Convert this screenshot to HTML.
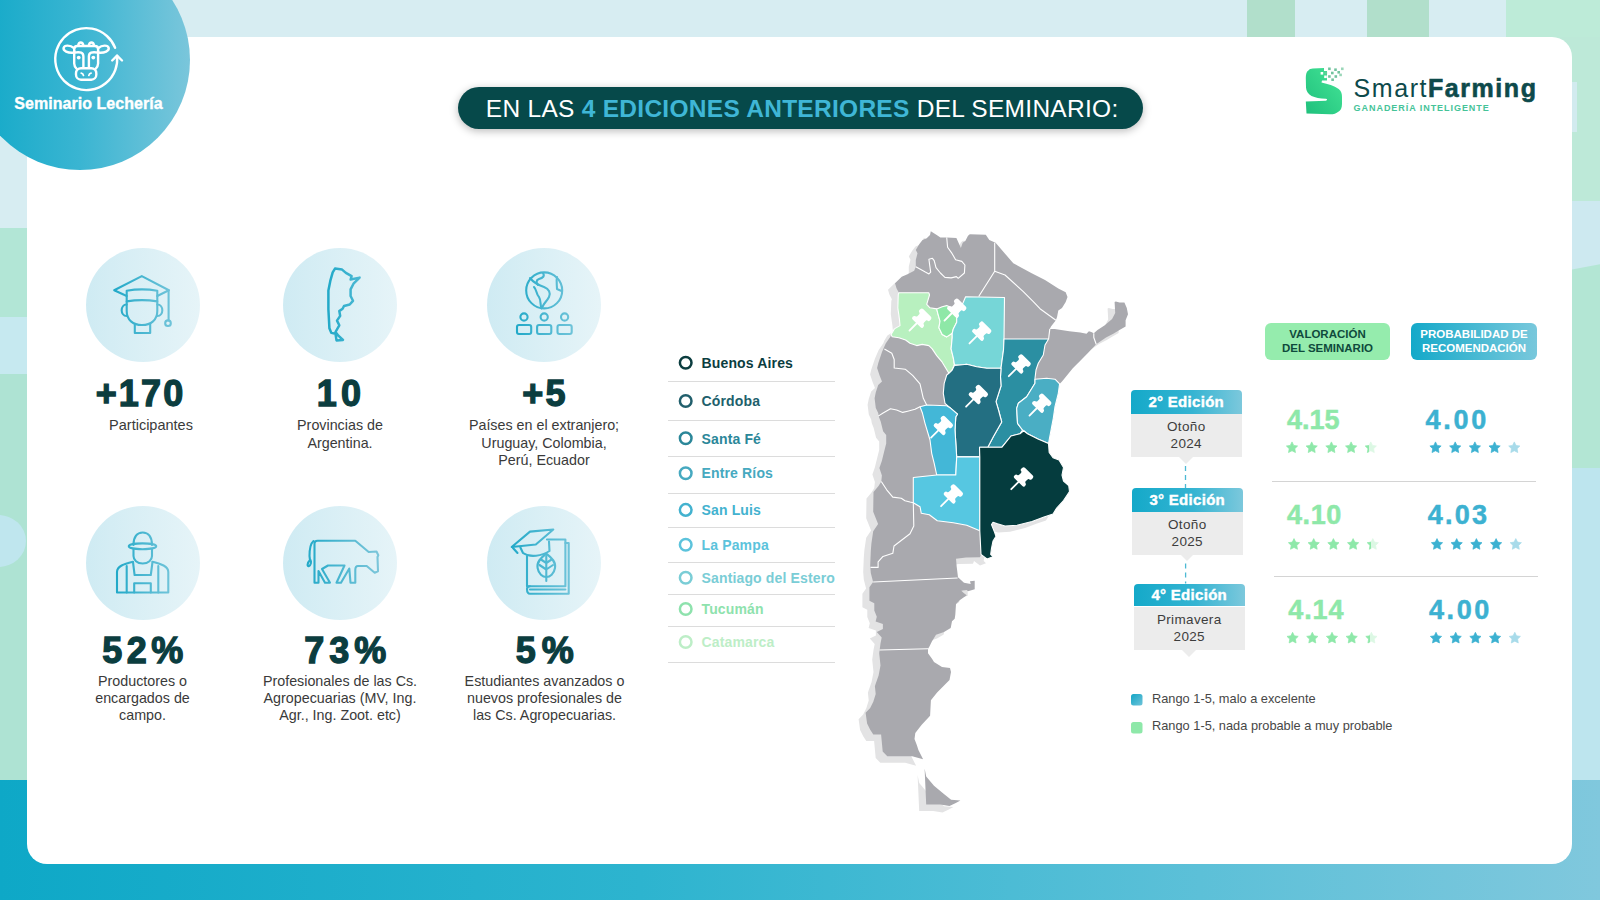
<!DOCTYPE html>
<html><head><meta charset="utf-8"><title>Seminario Lechería</title>
<style>
html,body{margin:0;padding:0;}
body{width:1600px;height:900px;position:relative;overflow:hidden;font-family:"Liberation Sans",sans-serif;background:#fff;}
.a{position:absolute;}
.t{position:absolute;white-space:nowrap;}
svg{display:block;}
</style></head><body>
<div class="a" style="left:0;top:0;width:1600px;height:900px;background:#d7edf2"></div>
<div class="a" style="left:1247px;top:0;width:48px;height:40px;background:#b1dfcb"></div>
<div class="a" style="left:1367px;top:0;width:62px;height:40px;background:#b1dfcb"></div>
<div class="a" style="left:1506px;top:0;width:94px;height:40px;background:#bdebd8"></div>
<div class="a" style="left:1560px;top:37px;width:40px;height:170px;background:#bde9d8"></div>
<div class="a" style="left:1560px;top:205px;width:40px;height:265px;background:#b3e6d4"></div>
<div class="a" style="left:1560px;top:200.7px;width:40px;height:71px;background:#cde9f0;clip-path:polygon(0 0,100% 0,100% 89.7%,0 100%)"></div>
<div class="a" style="left:1560px;top:468px;width:40px;height:315px;background:#bde5ee"></div>
<div class="a" style="left:1572px;top:81.5px;width:4.8px;height:50.5px;background:#d2ebef"></div>
<div class="a" style="left:0;top:228px;width:40px;height:89px;background:#b2e6d6"></div>
<div class="a" style="left:0;top:317px;width:40px;height:57px;background:#c6e9f0"></div>
<div class="a" style="left:0;top:374px;width:40px;height:410px;background:#aee3d3"></div>
<div class="a" style="left:-30px;top:515px;width:56px;height:52px;border-radius:50%;background:#bfe6ee"></div>
<div class="a" style="left:0;top:780px;width:1600px;height:120px;background:linear-gradient(90deg,#0ea8c7 0%,#2db4cf 40%,#5cc0d8 75%,#80c8dd 100%)"></div>
<div class="a" style="left:27px;top:37px;width:1545px;height:827px;background:#fff;border-radius:20px"></div>
<div class="a" style="left:-30.5px;top:-50px;width:220px;height:220px;border-radius:50%;background:linear-gradient(90deg,#0fa8c7 0%,#3ab5d2 50%,#7ac6db 100%)"></div>
<svg class="a" style="left:0;top:0" width="200" height="130" viewBox="0 0 200 130">
<g fill="none" stroke="#fff" stroke-width="2.4" stroke-linecap="round" stroke-linejoin="round">
<path d="M115.1,47.8 A31,31 0 1 0 117.05,55.7"/>
<path d="M112.2,60.5 L117.05,55.7 L122,60.5"/>
<path d="M78.3,45.2 C78.6,41.5 82.8,41.5 83.3,45.2 M88.9,45.2 C89.4,41.5 93.6,41.5 93.9,45.2"/>
<path d="M74.2,52 L74.2,49 C74.2,47 75.5,46 77.5,46 L94.8,46 C96.8,46 98.1,47 98.1,49 L98.1,52"/>
<path d="M74.2,48.2 C70,44.8 64.5,45 63.6,47.8 C62.9,50.8 67.5,53.2 74.2,52.6"/>
<path d="M98.1,48.2 C102.3,44.8 107.8,45 108.7,47.8 C109.4,50.8 104.8,53.2 98.1,52.6"/>
<path d="M74.2,51 L74.2,63.5 C74.2,65.5 75,67 76.6,68.8 M98.1,51 L98.1,63.5 C98.1,65.5 97.3,67 95.7,68.8"/>
<path d="M74.2,52.6 C80.5,51.6 83.4,52.5 83.4,56.5 L83.4,67.8 M98.1,52.6 C91.8,51.6 88.9,52.5 88.9,56.5 L88.9,67.8"/>
<rect x="76" y="68.2" width="20.3" height="11.5" rx="5"/>
</g>
<g fill="#fff"><circle cx="78.7" cy="57.6" r="1.9"/><circle cx="93.3" cy="57.6" r="1.9"/></g>
<g fill="none" stroke="#fff" stroke-width="1.7" stroke-linecap="round"><path d="M81.2,73.2 q1.9,0.3 2.3,2.3 M91.1,73.2 q-1.9,0.3 -2.3,2.3"/></g>
</svg>
<div class="t" style="top:93.86px;font-size:16px;line-height:19.2px;color:#fff;font-weight:bold;letter-spacing:0.05px;left:-11.50px;width:200px;text-align:center;-webkit-text-stroke:0.35px #fff;">Seminario Lechería</div>
<div class="a" style="left:457.5px;top:87px;width:685.5px;height:41.5px;border-radius:21px;background:#06494a;box-shadow:0 2px 9px rgba(0,0,0,0.28)"></div>
<div class="t" style="top:93.61px;font-size:24.5px;line-height:29.4px;color:#ffffff;font-weight:normal;letter-spacing:0.28px;left:485.80px;white-space:nowrap;">EN LAS <b style="color:#3fb6d6">4 EDICIONES ANTERIORES</b> DEL SEMINARIO:</div>
<svg class="a" style="left:1300px;top:62px" width="50" height="58" viewBox="1300 62 50 58">
<defs><linearGradient id="sg" x1="0" y1="1" x2="1" y2="0"><stop offset="0" stop-color="#1fc07c"/><stop offset="1" stop-color="#45e597"/></linearGradient></defs>
<path fill="url(#sg)" d="M1312.9,68.5 L1324,68.1 L1324,71 L1327,71 L1327,80.5 L1322,80.5 L1321.5,82.6 C1328,84 1334,86 1338.7,89.1 C1341.5,91.5 1342,94 1342,97 L1342,104 C1342,108 1340.5,110.5 1338.7,111.5 C1336,113.5 1334,114.3 1330,114.3 L1306.5,113.5 L1305.8,101.4 L1325.8,100.7 C1327.5,100.4 1327.5,98.9 1325.8,98.8 C1320,98.3 1315,97.8 1311.5,96 C1308,94 1306.2,91 1306,87.5 L1305.8,78 C1305.8,74 1306.5,71.5 1308.4,70.4 C1309.5,69.2 1311,68.6 1312.9,68.5 Z"/>
<g fill="#fff"><rect x="1320.6" y="72" width="2.6" height="2.6"/><rect x="1324.2" y="75.5" width="2.6" height="2.6"/></g>
<g fill="#72c39e">
<rect x="1328.1" y="67.5" width="2.6" height="2.6"/><rect x="1334.2" y="68.4" width="2.6" height="2.6"/><rect x="1341" y="67.5" width="2.6" height="2.6" fill="#9ad6b8"/>
<rect x="1331" y="71.7" width="2.6" height="2.6"/><rect x="1337.4" y="71" width="2.6" height="2.6"/><rect x="1339.3" y="73.6" width="2.6" height="2.6" fill="#9ad6b8"/>
<rect x="1328.1" y="75.2" width="2.6" height="2.6"/><rect x="1334.5" y="75.2" width="2.6" height="2.6"/><rect x="1331.3" y="78.4" width="2.6" height="2.6"/>
<rect x="1324.5" y="71.7" width="2.6" height="2.6" fill="#5fcf97"/>
</g></svg>
<div class="t" style="top:72.64px;font-size:25px;line-height:30.0px;color:#0d4a4b;font-weight:normal;letter-spacing:1.55px;left:1353.60px;white-space:nowrap;"><span style="font-weight:normal">Smart</span><b style="-webkit-text-stroke:0.6px #0d4a4b">Farming</b></div>
<div class="t" style="top:102.98px;font-size:9px;line-height:10.8px;color:#45c398;font-weight:bold;letter-spacing:0.95px;left:1353.60px;white-space:nowrap;">GANADERÍA INTELIGENTE</div>
<div class="a" style="left:85.7px;top:247.7px;width:114px;height:114px;border-radius:50%;background:linear-gradient(90deg,#cfebf3 0%,#e6f4f8 100%)"></div>
<div class="a" style="left:283.0px;top:247.7px;width:114px;height:114px;border-radius:50%;background:linear-gradient(90deg,#cfebf3 0%,#e6f4f8 100%)"></div>
<div class="a" style="left:487.0px;top:247.7px;width:114px;height:114px;border-radius:50%;background:linear-gradient(90deg,#cfebf3 0%,#e6f4f8 100%)"></div>
<div class="a" style="left:85.7px;top:505.5px;width:114px;height:114px;border-radius:50%;background:linear-gradient(90deg,#cfebf3 0%,#e6f4f8 100%)"></div>
<div class="a" style="left:283.0px;top:505.5px;width:114px;height:114px;border-radius:50%;background:linear-gradient(90deg,#cfebf3 0%,#e6f4f8 100%)"></div>
<div class="a" style="left:487.0px;top:505.5px;width:114px;height:114px;border-radius:50%;background:linear-gradient(90deg,#cfebf3 0%,#e6f4f8 100%)"></div>
<svg class="a" style="left:0;top:0" width="660" height="620" viewBox="0 0 660 620">
<defs>
<linearGradient id="ig1" gradientUnits="userSpaceOnUse" x1="114" y1="0" x2="170" y2="0"><stop offset="0" stop-color="#22a9c8"/><stop offset="1" stop-color="#6ec3d9"/></linearGradient>
<linearGradient id="ig2" gradientUnits="userSpaceOnUse" x1="328" y1="0" x2="360" y2="0"><stop offset="0" stop-color="#22a9c8"/><stop offset="1" stop-color="#4bb8d3"/></linearGradient>
<linearGradient id="ig3" gradientUnits="userSpaceOnUse" x1="516" y1="0" x2="572" y2="0"><stop offset="0" stop-color="#22a9c8"/><stop offset="1" stop-color="#6ec3d9"/></linearGradient>
<linearGradient id="ig4" gradientUnits="userSpaceOnUse" x1="116" y1="0" x2="169" y2="0"><stop offset="0" stop-color="#22a9c8"/><stop offset="1" stop-color="#6ec3d9"/></linearGradient>
<linearGradient id="ig5" gradientUnits="userSpaceOnUse" x1="307" y1="0" x2="379" y2="0"><stop offset="0" stop-color="#22a9c8"/><stop offset="1" stop-color="#7cc6da"/></linearGradient>
<linearGradient id="ig6" gradientUnits="userSpaceOnUse" x1="511" y1="0" x2="569" y2="0"><stop offset="0" stop-color="#22a9c8"/><stop offset="1" stop-color="#6ec3d9"/></linearGradient>
</defs>
<g fill="none" stroke-width="2.1" stroke-linejoin="round" stroke-linecap="round">
<g stroke="url(#ig1)">
<!-- graduate -->
<path d="M126.7,296 L114.2,290.3 L141.8,276.1 L168.9,290.3 L157.3,296"/>
<path d="M126.7,290.8 Q142,288 157.3,290.8 L157.3,301.4 Q142,298.8 126.7,301.4 Z"/>
<path d="M126.7,301.4 L126.7,311 C126.7,320 133,325 142,325 C151,325 157.3,320 157.3,311 L157.3,301.4"/>
<path d="M126.7,304.5 C120,304.5 120,316 126.7,316 M157.3,304.5 C164,304.5 164,316 157.3,316"/>
<path d="M134.8,324 L134.8,333 L150.2,333 L150.2,324"/>
<path d="M168.6,290.3 L168.6,320.5"/>
<circle cx="168" cy="323.2" r="2.8"/>
</g><g stroke="url(#ig2)"><!-- argentina -->
<path stroke-width="2.5" d="M335,268.6 L342.1,269.6 L345.9,272.9 L351.6,276.2 L350.6,279.5 L359.6,277.6 L353.5,283.7 L350.6,289.4 L350.6,296 L353,300.8 L349.7,304.5 L344,306 L342.6,308.8 L339.3,311.1 L340.2,315.9 L337,320.6 L339.3,325.3 L335.5,332 L338.4,335.7 L343,340 L336.5,340.4 L335.5,333.8 L331.3,332.9 L329.4,328.2 L328.4,309.3 L328.4,290.4 L330.3,280.9 L332.7,272.4 Z"/>
</g><g stroke="url(#ig3)"><!-- globe -->
<circle cx="544.2" cy="290.4" r="18"/>
<path d="M530,278 C534,283 538,285 544,287 C549,289 551,293 549,297 C547,301 544,303 543,306 L541.5,308.5 C540,304 541,300 539,297 C536,294 537,290 534,287"/>
<path d="M543,273 C545,276 543,278 539,279 C536,280 536,283 538,285"/>
<path d="M557,277 C556,281 557,285 557,289 L561.5,291"/>
<circle cx="524" cy="317" r="3.6"/><circle cx="544.2" cy="317" r="3.6"/><circle cx="564.6" cy="317" r="3.6"/>
<rect x="517" y="325" width="14.2" height="9" rx="2"/><rect x="537.1" y="325" width="14.2" height="9" rx="2"/><rect x="557.5" y="325" width="14.2" height="9" rx="2"/>
</g><g stroke="url(#ig4)"><!-- farmer -->
<path d="M133.5,545 C133.5,537 137,532.5 142.7,532.5 C148.4,532.5 152,537 152,545"/>
<ellipse cx="142.5" cy="546.3" rx="13.7" ry="2.9"/>
<path d="M133.5,549 L133.5,556 C133.5,560 137,563.5 142.7,563.5 C148.4,563.5 152,560 152,556 L152,549"/>
<path d="M133,561.7 C124,564 117,566 117,572 L117,592.5 L168.3,592.5 L168.3,572 C168.3,566 161,564 152.5,561.7"/>
<path d="M126.7,566 L126.7,592.5 M158.3,566 L158.3,592.5"/>
<path d="M133,562 L134.6,575 L150.8,575 L152.5,562"/>
<path d="M134.2,592.5 L134.2,583.3 L150.8,583.3 L150.8,592.5"/>
</g><g stroke="url(#ig5)"><!-- cow -->
<path d="M314.5,582.7 L314.5,543.5 Q314.5,540.7 317.5,540.7 L355.3,540.7 L368.7,552 L376.5,551.5 L378.3,555.3 L377.5,557 L378,571.3 L374.7,572.7 L366.7,566 L358,566 Q355.3,566 355.3,570 L355.3,582.7 L350.5,582.7 L349.3,568.5 L341,582.7 L336.5,582.7 L344.5,565.5 L328,565.5 L322,569 L330,582.7 L325,582.7 L318.5,571 L318.5,582.7 Z"/>
<path d="M313.5,541 C310,544 309.5,550 309.5,556 L310,560 C307,563 307,567 309,566 C311,565 311.5,562 310.5,560"/>
</g><g stroke="url(#ig6)"><!-- book -->
<path d="M527,556 L527,586.2 L565.4,586.2 L565.4,539.5 L547,539.5"/>
<path d="M565.4,543 L568.7,543 L568.7,593.7 L530,593.7 C527,593.7 527,590 527,589 C527,587 528,586.2 530,586.2"/>
<path d="M530,589.5 L565.4,589.5"/>
<path d="M511.7,547 L530,531.6 L553.3,529.5 L535.8,544.5 Z"/>
<path d="M520.4,547.5 L523,553 C530,558 542,556 549.5,551 L549,541.5"/>
<path d="M513,548 L517.5,553"/>
<path d="M546.3,553.7 C552,558 556,562 555,568 C554,574 550,577 546.3,577 C542.6,577 538.6,574 537.6,568 C536.6,562 540.6,558 546.3,553.7 Z"/>
<path d="M546.3,556 L546.3,581 M546.3,563 L541,559.5 M546.3,563 L551.6,559.5 M546.3,569.5 L539.5,565 M546.3,569.5 L553,565"/>
</g></g></svg>
<div class="t" style="top:371.93px;font-size:36px;line-height:43.2px;color:#0b3d3f;font-weight:bold;letter-spacing:2.2px;left:40.60px;width:200px;text-align:center;-webkit-text-stroke:1.3px #0b3d3f;">+170</div>
<div class="t" style="top:371.93px;font-size:36px;line-height:43.2px;color:#0b3d3f;font-weight:bold;letter-spacing:4px;left:240.90px;width:200px;text-align:center;-webkit-text-stroke:1.3px #0b3d3f;">10</div>
<div class="t" style="top:371.93px;font-size:36px;line-height:43.2px;color:#0b3d3f;font-weight:bold;letter-spacing:2.2px;left:445.00px;width:200px;text-align:center;-webkit-text-stroke:1.3px #0b3d3f;">+5</div>
<div class="t" style="top:416.88px;font-size:14.5px;line-height:17.4px;color:#3a3a3a;font-weight:normal;left:51.00px;width:200px;text-align:center;">Participantes</div>
<div class="t" style="top:417.07px;font-size:14.3px;line-height:17.16px;color:#3a3a3a;font-weight:normal;left:190.00px;width:300px;text-align:center;">Provincias de</div>
<div class="t" style="top:434.57px;font-size:14.3px;line-height:17.16px;color:#3a3a3a;font-weight:normal;left:190.00px;width:300px;text-align:center;">Argentina.</div>
<div class="t" style="top:417.07px;font-size:14.3px;line-height:17.16px;color:#3a3a3a;font-weight:normal;left:394.00px;width:300px;text-align:center;">Países en el extranjero;</div>
<div class="t" style="top:434.57px;font-size:14.3px;line-height:17.16px;color:#3a3a3a;font-weight:normal;left:394.00px;width:300px;text-align:center;">Uruguay, Colombia,</div>
<div class="t" style="top:452.07px;font-size:14.3px;line-height:17.16px;color:#3a3a3a;font-weight:normal;left:394.00px;width:300px;text-align:center;">Perú, Ecuador</div>
<div class="t" style="top:628.93px;font-size:36px;line-height:43.2px;color:#0b3d3f;font-weight:bold;letter-spacing:4.5px;left:45.00px;width:200px;text-align:center;-webkit-text-stroke:1.3px #0b3d3f;">52%</div>
<div class="t" style="top:628.93px;font-size:36px;line-height:43.2px;color:#0b3d3f;font-weight:bold;letter-spacing:5px;left:247.70px;width:200px;text-align:center;-webkit-text-stroke:1.3px #0b3d3f;">73%</div>
<div class="t" style="top:628.93px;font-size:36px;line-height:43.2px;color:#0b3d3f;font-weight:bold;letter-spacing:6px;left:447.80px;width:200px;text-align:center;-webkit-text-stroke:1.3px #0b3d3f;">5%</div>
<div class="t" style="top:673.37px;font-size:14.3px;line-height:17.16px;color:#3a3a3a;font-weight:normal;left:-7.50px;width:300px;text-align:center;">Productores o</div>
<div class="t" style="top:690.27px;font-size:14.3px;line-height:17.16px;color:#3a3a3a;font-weight:normal;left:-7.50px;width:300px;text-align:center;">encargados de</div>
<div class="t" style="top:707.17px;font-size:14.3px;line-height:17.16px;color:#3a3a3a;font-weight:normal;left:-7.50px;width:300px;text-align:center;">campo.</div>
<div class="t" style="top:673.37px;font-size:14.3px;line-height:17.16px;color:#3a3a3a;font-weight:normal;left:190.00px;width:300px;text-align:center;">Profesionales de las Cs.</div>
<div class="t" style="top:690.27px;font-size:14.3px;line-height:17.16px;color:#3a3a3a;font-weight:normal;left:190.00px;width:300px;text-align:center;">Agropecuarias (MV, Ing.</div>
<div class="t" style="top:707.17px;font-size:14.3px;line-height:17.16px;color:#3a3a3a;font-weight:normal;left:190.00px;width:300px;text-align:center;">Agr., Ing. Zoot. etc)</div>
<div class="t" style="top:673.37px;font-size:14.3px;line-height:17.16px;color:#3a3a3a;font-weight:normal;left:394.50px;width:300px;text-align:center;">Estudiantes avanzados o</div>
<div class="t" style="top:690.27px;font-size:14.3px;line-height:17.16px;color:#3a3a3a;font-weight:normal;left:394.50px;width:300px;text-align:center;">nuevos profesionales de</div>
<div class="t" style="top:707.17px;font-size:14.3px;line-height:17.16px;color:#3a3a3a;font-weight:normal;left:394.50px;width:300px;text-align:center;">las Cs. Agropecuarias.</div>
<svg class="a" style="left:0;top:0" width="1600" height="900" viewBox="0 0 1600 900">
<g fill="#e3e3e4" transform="translate(-7,6.5)"><path d="M895.0,283.3 L901.7,276.7 L907.5,274.2 L914.2,270.8 L915.8,266.7 L915.8,260.0 L917.5,253.3 L915.8,250.0 L919.2,244.2 L922.5,240.0 L926.7,238.3 L930.0,235.0 L930.8,231.3 L936.7,235.0 L940.4,237.4 L946.7,237.4 L956.4,237.9 L960.9,248.1 L962.7,242.8 L965.3,241.0 L968.0,235.7 L969.8,234.3 L985.8,234.8 L989.3,240.1 L995.6,242.8 L1013.3,263.3 L1031.7,273.3 L1045.0,280.0 L1058.3,288.6 L1065.7,292.2 L1067.5,297.1 L1065.7,302.0 L1062.0,308.1 L1058.3,310.6 L1057.1,316.7 L1055.9,320.3 L1051.0,326.5 L1049.8,328.9 L1054.7,328.9 L1069.3,331.3 L1080.3,332.6 L1086.5,333.8 L1088.9,331.3 L1091.3,332.0 L1093.8,333.2 L1097.5,330.1 L1104.8,325.2 L1112.1,319.1 L1115.2,313.0 L1114.6,302.0 L1115.8,301.4 L1119.5,302.6 L1124.4,302.6 L1126.8,308.1 L1128.0,314.2 L1125.6,320.3 L1125.6,326.5 L1119.5,330.1 L1113.3,333.8 L1106.0,337.5 L1096.2,344.2 L1088.9,352.1 L1080.3,360.7 L1073.0,368.0 L1066.9,375.4 L1062.0,381.5 L1059.6,383.9 L1058.3,393.3 L1055.0,406.7 L1053.3,418.3 L1051.7,426.7 L1048.5,443.5 L1049.2,452.5 L1053.0,457.7 L1059.0,460.0 L1063.5,467.5 L1062.0,475.0 L1063.5,481.0 L1068.7,485.5 L1069.5,491.5 L1066.5,496.0 L1063.5,500.5 L1056.7,508.0 L1053.0,514.0 L1044.0,517.0 L1032.0,521.5 L1017.0,525.2 L1005.0,526.0 L997.5,523.7 L993.0,522.2 L991.5,524.5 L994.5,532.0 L996.0,536.4 L993.0,541.0 L991.5,548.4 L990.7,554.4 L993.0,556.7 L987.0,559.0 L981.0,554.4 L980.0,557.3 L966.0,557.5 L956.0,558.7 L956.7,566.7 L958.0,577.3 L964.0,582.7 L970.7,584.0 L970.0,581.3 L974.7,580.7 L974.7,589.3 L968.0,591.3 L966.7,590.0 L961.3,590.7 L964.0,593.3 L966.7,595.3 L960.0,600.0 L956.0,604.0 L955.3,614.7 L954.7,618.7 L952.0,621.3 L950.7,628.0 L944.0,632.0 L936.0,634.7 L932.0,641.3 L929.3,646.7 L928.0,648.7 L928.0,653.3 L932.0,658.7 L934.0,662.0 L942.0,667.0 L950.0,668.0 L951.0,672.0 L949.5,680.0 L937.1,692.4 L930.9,700.2 L930.1,715.8 L921.5,725.1 L915.3,732.9 L914.5,739.1 L916.9,745.3 L918.4,750.0 L923.1,759.3 L912.2,756.2 L887.3,756.2 L882.7,751.5 L881.1,734.4 L873.3,734.4 L870.2,729.8 L867.1,723.5 L865.6,712.7 L870.2,708.0 L873.3,701.8 L875.7,694.0 L874.9,686.2 L875.6,683.9 L878.6,675.4 L880.5,665.6 L879.2,653.3 L880.5,643.6 L881.7,637.5 L876.8,632.0 L882.9,628.9 L882.9,624.0 L875.6,621.6 L876.8,616.7 L874.3,610.6 L874.3,603.2 L869.4,600.8 L869.4,587.3 L873.1,582.0 L870.8,572.9 L870.2,565.6 L870.8,550.9 L871.4,543.6 L873.2,531.3 L878.1,524.0 L873.2,511.8 L873.5,492.0 L878.5,486.0 L881.3,481.5 L881.9,475.4 L879.4,468.0 L881.9,460.7 L884.3,450.9 L886.2,443.6 L886.2,435.0 L883.1,431.3 L880.7,421.6 L878.8,416.7 L878.2,413.0 L875.8,408.1 L874.6,398.3 L875.8,392.2 L878.2,384.9 L882.0,381.5 L879.6,375.4 L877.1,368.0 L878.3,363.1 L882.0,352.1 L885.7,343.6 L890.5,336.5 L891.1,334.4 L894.4,328.9 L900.0,325.6 L899.4,318.9 L897.8,307.8 L898.3,294.4 L898.9,292.8 L896.5,288.3 Z"/><path d="M924.6,768.6 L926.2,776.4 L934.0,785.8 L943.3,793.5 L951.1,799.8 L960.4,800.5 L955.8,802.9 L949.5,806.0 L940.2,804.4 L926.2,804.4 Z"/></g>
<g fill="#a9a9ae"><path d="M895.0,283.3 L901.7,276.7 L907.5,274.2 L914.2,270.8 L915.8,266.7 L915.8,260.0 L917.5,253.3 L915.8,250.0 L919.2,244.2 L922.5,240.0 L926.7,238.3 L930.0,235.0 L930.8,231.3 L936.7,235.0 L940.4,237.4 L946.7,237.4 L956.4,237.9 L960.9,248.1 L962.7,242.8 L965.3,241.0 L968.0,235.7 L969.8,234.3 L985.8,234.8 L989.3,240.1 L995.6,242.8 L1013.3,263.3 L1031.7,273.3 L1045.0,280.0 L1058.3,288.6 L1065.7,292.2 L1067.5,297.1 L1065.7,302.0 L1062.0,308.1 L1058.3,310.6 L1057.1,316.7 L1055.9,320.3 L1051.0,326.5 L1049.8,328.9 L1054.7,328.9 L1069.3,331.3 L1080.3,332.6 L1086.5,333.8 L1088.9,331.3 L1091.3,332.0 L1093.8,333.2 L1097.5,330.1 L1104.8,325.2 L1112.1,319.1 L1115.2,313.0 L1114.6,302.0 L1115.8,301.4 L1119.5,302.6 L1124.4,302.6 L1126.8,308.1 L1128.0,314.2 L1125.6,320.3 L1125.6,326.5 L1119.5,330.1 L1113.3,333.8 L1106.0,337.5 L1096.2,344.2 L1088.9,352.1 L1080.3,360.7 L1073.0,368.0 L1066.9,375.4 L1062.0,381.5 L1059.6,383.9 L1058.3,393.3 L1055.0,406.7 L1053.3,418.3 L1051.7,426.7 L1048.5,443.5 L1049.2,452.5 L1053.0,457.7 L1059.0,460.0 L1063.5,467.5 L1062.0,475.0 L1063.5,481.0 L1068.7,485.5 L1069.5,491.5 L1066.5,496.0 L1063.5,500.5 L1056.7,508.0 L1053.0,514.0 L1044.0,517.0 L1032.0,521.5 L1017.0,525.2 L1005.0,526.0 L997.5,523.7 L993.0,522.2 L991.5,524.5 L994.5,532.0 L996.0,536.4 L993.0,541.0 L991.5,548.4 L990.7,554.4 L993.0,556.7 L987.0,559.0 L981.0,554.4 L980.0,557.3 L966.0,557.5 L956.0,558.7 L956.7,566.7 L958.0,577.3 L964.0,582.7 L970.7,584.0 L970.0,581.3 L974.7,580.7 L974.7,589.3 L968.0,591.3 L966.7,590.0 L961.3,590.7 L964.0,593.3 L966.7,595.3 L960.0,600.0 L956.0,604.0 L955.3,614.7 L954.7,618.7 L952.0,621.3 L950.7,628.0 L944.0,632.0 L936.0,634.7 L932.0,641.3 L929.3,646.7 L928.0,648.7 L928.0,653.3 L932.0,658.7 L934.0,662.0 L942.0,667.0 L950.0,668.0 L951.0,672.0 L949.5,680.0 L937.1,692.4 L930.9,700.2 L930.1,715.8 L921.5,725.1 L915.3,732.9 L914.5,739.1 L916.9,745.3 L918.4,750.0 L923.1,759.3 L912.2,756.2 L887.3,756.2 L882.7,751.5 L881.1,734.4 L873.3,734.4 L870.2,729.8 L867.1,723.5 L865.6,712.7 L870.2,708.0 L873.3,701.8 L875.7,694.0 L874.9,686.2 L875.6,683.9 L878.6,675.4 L880.5,665.6 L879.2,653.3 L880.5,643.6 L881.7,637.5 L876.8,632.0 L882.9,628.9 L882.9,624.0 L875.6,621.6 L876.8,616.7 L874.3,610.6 L874.3,603.2 L869.4,600.8 L869.4,587.3 L873.1,582.0 L870.8,572.9 L870.2,565.6 L870.8,550.9 L871.4,543.6 L873.2,531.3 L878.1,524.0 L873.2,511.8 L873.5,492.0 L878.5,486.0 L881.3,481.5 L881.9,475.4 L879.4,468.0 L881.9,460.7 L884.3,450.9 L886.2,443.6 L886.2,435.0 L883.1,431.3 L880.7,421.6 L878.8,416.7 L878.2,413.0 L875.8,408.1 L874.6,398.3 L875.8,392.2 L878.2,384.9 L882.0,381.5 L879.6,375.4 L877.1,368.0 L878.3,363.1 L882.0,352.1 L885.7,343.6 L890.5,336.5 L891.1,334.4 L894.4,328.9 L900.0,325.6 L899.4,318.9 L897.8,307.8 L898.3,294.4 L898.9,292.8 L896.5,288.3 Z"/><path d="M924.6,768.6 L926.2,776.4 L934.0,785.8 L943.3,793.5 L951.1,799.8 L960.4,800.5 L955.8,802.9 L949.5,806.0 L940.2,804.4 L926.2,804.4 Z"/></g>
<g fill="none" stroke="#fff" stroke-width="1.1" stroke-linejoin="round"><path d="M946.7,237.4 L947.6,247.2 L952.0,253.4 L955.6,259.7 L961.8,261.4 L964.9,265.0 L964.4,273.0 L958.2,278.3 L956.4,276.6 L951.1,277.9 L944.9,277.4 L940.4,273.0 L936.0,267.7 L934.2,260.6 L932.4,258.3 L928.9,259.2 L929.8,265.9 L930.7,272.1 L928.9,273.9 L925.3,272.1 L915.8,266.7"/><path d="M994.7,242.8 L994.7,271.2 L978.7,296.5"/><path d="M994.7,271.2 L1005.0,275.0 L1023.3,291.7 L1033.3,301.7 L1040.0,308.7 L1055.9,320.3"/><path d="M1049.8,328.9 L1048.6,339.0"/><path d="M1093.8,333.2 L1093.8,337.5 L1096.2,344.2"/><path d="M884.4,349.0 L891.8,353.3 L894.2,359.5 L894.2,368.0 L905.2,369.2 L912.6,375.4 L920.0,383.9 L923.3,398.3 L926.7,405.0"/><path d="M878.2,416.1 L883.1,413.0 L890.5,408.7 L896.6,410.0 L902.7,412.4 L907.6,411.2 L915.0,409.3 L920.0,406.7"/><path d="M881.3,481.5 L886.7,489.8 L892.8,497.1 L901.3,498.3 L905.0,500.8 L910.0,502.0 L913.3,502.7"/><path d="M913.3,502.7 L913.8,526.0 L910.0,533.8 L894.0,546.0 L892.8,553.3 L883.0,556.4 L878.1,561.9 L878.1,567.4 L870.5,567.4"/><path d="M873.1,582.0 L957.6,578.0"/><path d="M879.5,650.0 L928.0,648.7"/></g>
<g stroke="#fff" stroke-width="1.1" stroke-linejoin="round"><path fill="#b8f0bf" d="M898.9,292.8 L928.9,292.8 L929.5,295.0 L926.7,304.4 L930.0,307.8 L936.7,308.9 L937.8,313.3 L940.0,321.1 L938.9,327.8 L942.2,334.4 L946.7,336.9 L952.2,333.3 L952.2,337.8 L951.1,348.9 L953.3,357.8 L954.4,364.4 L952.2,370.0 L948.9,373.3 L942.2,362.2 L936.7,355.6 L932.2,348.9 L928.9,345.6 L922.2,344.4 L916.7,345.6 L910.0,343.3 L905.6,340.0 L898.9,337.8 L892.2,336.7 L891.1,334.4 L894.4,328.9 L900.0,325.6 L899.4,318.9 L897.8,307.8 L898.3,294.4 Z"/><path fill="#8ee8a7" d="M936.7,308.9 L942.2,306.7 L946.7,305.6 L951.1,307.5 L956.7,308.0 L956.7,322.2 L953.3,328.9 L952.2,333.3 L946.7,336.9 L942.2,334.4 L938.9,327.8 L940.0,321.1 L937.8,313.3 Z"/><path fill="#76d6d7" d="M965.6,296.7 L1004.5,297.5 L1004.0,339.0 L1003.5,350.0 L1001.0,368.3 L986.7,368.3 L976.7,366.7 L966.7,364.2 L960.0,365.0 L955.5,365.0 L954.4,364.4 L953.3,357.8 L951.1,348.9 L952.2,337.8 L952.2,333.3 L953.3,328.9 L956.7,322.2 L956.7,312.0 L960.0,308.9 L963.3,302.2 Z"/><path fill="#2b8fa2" d="M1004.0,339.0 L1048.6,339.0 L1045.0,345.0 L1043.3,355.0 L1038.3,363.3 L1036.0,370.0 L1035.0,378.3 L1035.0,383.3 L1026.7,396.7 L1018.3,403.3 L1016.7,408.3 L1017.5,423.3 L1022.5,430.0 L1020.0,433.7 L1011.0,436.0 L1002.0,447.2 L987.8,447.2 L993.3,436.7 L1001.7,422.0 L998.5,410.0 L996.0,401.7 L1001.0,386.0 L1000.5,376.7 L1001.0,368.3 L1003.5,350.0 Z"/><path fill="#236f82" d="M946.7,375.0 L948.9,373.3 L952.2,370.0 L954.4,365.5 L960.0,365.0 L966.7,364.2 L976.7,366.7 L986.7,368.3 L1001.0,368.3 L1000.5,376.7 L1001.0,386.0 L996.0,401.7 L998.5,410.0 L1001.7,422.0 L993.3,436.7 L987.8,447.2 L979.5,447.2 L979.8,456.9 L956.7,456.9 L955.0,430.0 L955.8,416.7 L957.5,414.2 L950.8,408.3 L945.0,403.3 L943.3,393.3 L944.2,383.3 Z"/><path fill="#4aaec4" d="M1035.0,379.2 L1046.7,378.3 L1055.0,379.2 L1059.6,383.9 L1058.3,393.3 L1055.0,406.7 L1053.3,418.3 L1051.7,426.7 L1048.5,443.5 L1038.0,439.0 L1027.5,433.7 L1023.7,430.7 L1022.5,430.0 L1017.5,423.3 L1016.7,408.3 L1018.3,403.3 L1026.7,396.7 L1035.0,383.3 Z"/><path fill="#43b7d7" d="M920.0,406.7 L926.7,405.0 L946.7,405.8 L950.8,408.3 L957.5,414.2 L955.8,416.7 L955.0,430.0 L956.7,456.9 L955.8,475.0 L936.7,475.0 L934.2,463.3 L931.7,453.3 L930.0,440.0 L925.0,423.3 L922.5,413.3 Z"/><path fill="#56c7e1" d="M913.3,477.5 L936.7,475.0 L955.8,475.0 L956.7,456.9 L979.8,456.9 L979.8,530.7 L966.7,525.3 L953.3,522.7 L937.3,520.7 L929.3,514.7 L921.3,513.3 L920.0,506.7 L913.3,502.7 Z"/><path fill="#053c3e" d="M979.5,447.2 L987.8,447.2 L1002.0,447.2 L1011.0,436.0 L1020.0,433.7 L1023.7,430.7 L1027.5,433.7 L1038.0,439.0 L1048.5,443.5 L1049.2,452.5 L1053.0,457.7 L1059.0,460.0 L1063.5,467.5 L1062.0,475.0 L1063.5,481.0 L1068.7,485.5 L1069.5,491.5 L1066.5,496.0 L1063.5,500.5 L1056.7,508.0 L1053.0,514.0 L1044.0,517.0 L1032.0,521.5 L1017.0,525.2 L1005.0,526.0 L997.5,523.7 L993.0,522.2 L991.5,524.5 L994.5,532.0 L996.0,536.4 L993.0,541.0 L991.5,548.4 L990.7,554.4 L993.0,556.7 L987.0,559.0 L981.0,554.4 L979.8,530.7 L979.8,456.9 Z"/></g>
<g fill="#fff" stroke="#fff"><g transform="translate(921.7,318.3) rotate(45)"><path stroke="none" d="M-5.2,-7.6 L5.2,-7.6 Q7.4,-7.6 7.4,-5.4 L7.4,-4.2 Q7.4,-2.6 5.6,-2.4 Q4.6,-2.2 4.6,-0.8 L4.6,1.2 Q4.6,2.6 5.8,2.9 Q7.4,3.3 7.4,5 L7.4,5.6 Q7.4,7.2 5.6,7.2 L-5.6,7.2 Q-7.4,7.2 -7.4,5.6 L-7.4,5 Q-7.4,3.3 -5.8,2.9 Q-4.6,2.6 -4.6,1.2 L-4.6,-0.8 Q-4.6,-2.2 -5.6,-2.4 Q-7.4,-2.6 -7.4,-4.2 L-7.4,-5.4 Q-7.4,-7.6 -5.2,-7.6 Z"/><path d="M0,7 L0,17.3" stroke-width="1.8" stroke-linecap="round"/></g><g transform="translate(956.7,308.3) rotate(45)"><path stroke="none" d="M-5.2,-7.6 L5.2,-7.6 Q7.4,-7.6 7.4,-5.4 L7.4,-4.2 Q7.4,-2.6 5.6,-2.4 Q4.6,-2.2 4.6,-0.8 L4.6,1.2 Q4.6,2.6 5.8,2.9 Q7.4,3.3 7.4,5 L7.4,5.6 Q7.4,7.2 5.6,7.2 L-5.6,7.2 Q-7.4,7.2 -7.4,5.6 L-7.4,5 Q-7.4,3.3 -5.8,2.9 Q-4.6,2.6 -4.6,1.2 L-4.6,-0.8 Q-4.6,-2.2 -5.6,-2.4 Q-7.4,-2.6 -7.4,-4.2 L-7.4,-5.4 Q-7.4,-7.6 -5.2,-7.6 Z"/><path d="M0,7 L0,17.3" stroke-width="1.8" stroke-linecap="round"/></g><g transform="translate(981.7,331.2) rotate(45)"><path stroke="none" d="M-5.2,-7.6 L5.2,-7.6 Q7.4,-7.6 7.4,-5.4 L7.4,-4.2 Q7.4,-2.6 5.6,-2.4 Q4.6,-2.2 4.6,-0.8 L4.6,1.2 Q4.6,2.6 5.8,2.9 Q7.4,3.3 7.4,5 L7.4,5.6 Q7.4,7.2 5.6,7.2 L-5.6,7.2 Q-7.4,7.2 -7.4,5.6 L-7.4,5 Q-7.4,3.3 -5.8,2.9 Q-4.6,2.6 -4.6,1.2 L-4.6,-0.8 Q-4.6,-2.2 -5.6,-2.4 Q-7.4,-2.6 -7.4,-4.2 L-7.4,-5.4 Q-7.4,-7.6 -5.2,-7.6 Z"/><path d="M0,7 L0,17.3" stroke-width="1.8" stroke-linecap="round"/></g><g transform="translate(978.3,394.5) rotate(45)"><path stroke="none" d="M-5.2,-7.6 L5.2,-7.6 Q7.4,-7.6 7.4,-5.4 L7.4,-4.2 Q7.4,-2.6 5.6,-2.4 Q4.6,-2.2 4.6,-0.8 L4.6,1.2 Q4.6,2.6 5.8,2.9 Q7.4,3.3 7.4,5 L7.4,5.6 Q7.4,7.2 5.6,7.2 L-5.6,7.2 Q-7.4,7.2 -7.4,5.6 L-7.4,5 Q-7.4,3.3 -5.8,2.9 Q-4.6,2.6 -4.6,1.2 L-4.6,-0.8 Q-4.6,-2.2 -5.6,-2.4 Q-7.4,-2.6 -7.4,-4.2 L-7.4,-5.4 Q-7.4,-7.6 -5.2,-7.6 Z"/><path d="M0,7 L0,17.3" stroke-width="1.8" stroke-linecap="round"/></g><g transform="translate(1021,364) rotate(45)"><path stroke="none" d="M-5.2,-7.6 L5.2,-7.6 Q7.4,-7.6 7.4,-5.4 L7.4,-4.2 Q7.4,-2.6 5.6,-2.4 Q4.6,-2.2 4.6,-0.8 L4.6,1.2 Q4.6,2.6 5.8,2.9 Q7.4,3.3 7.4,5 L7.4,5.6 Q7.4,7.2 5.6,7.2 L-5.6,7.2 Q-7.4,7.2 -7.4,5.6 L-7.4,5 Q-7.4,3.3 -5.8,2.9 Q-4.6,2.6 -4.6,1.2 L-4.6,-0.8 Q-4.6,-2.2 -5.6,-2.4 Q-7.4,-2.6 -7.4,-4.2 L-7.4,-5.4 Q-7.4,-7.6 -5.2,-7.6 Z"/><path d="M0,7 L0,17.3" stroke-width="1.8" stroke-linecap="round"/></g><g transform="translate(1041.7,403.3) rotate(45)"><path stroke="none" d="M-5.2,-7.6 L5.2,-7.6 Q7.4,-7.6 7.4,-5.4 L7.4,-4.2 Q7.4,-2.6 5.6,-2.4 Q4.6,-2.2 4.6,-0.8 L4.6,1.2 Q4.6,2.6 5.8,2.9 Q7.4,3.3 7.4,5 L7.4,5.6 Q7.4,7.2 5.6,7.2 L-5.6,7.2 Q-7.4,7.2 -7.4,5.6 L-7.4,5 Q-7.4,3.3 -5.8,2.9 Q-4.6,2.6 -4.6,1.2 L-4.6,-0.8 Q-4.6,-2.2 -5.6,-2.4 Q-7.4,-2.6 -7.4,-4.2 L-7.4,-5.4 Q-7.4,-7.6 -5.2,-7.6 Z"/><path d="M0,7 L0,17.3" stroke-width="1.8" stroke-linecap="round"/></g><g transform="translate(943.3,425.5) rotate(45)"><path stroke="none" d="M-5.2,-7.6 L5.2,-7.6 Q7.4,-7.6 7.4,-5.4 L7.4,-4.2 Q7.4,-2.6 5.6,-2.4 Q4.6,-2.2 4.6,-0.8 L4.6,1.2 Q4.6,2.6 5.8,2.9 Q7.4,3.3 7.4,5 L7.4,5.6 Q7.4,7.2 5.6,7.2 L-5.6,7.2 Q-7.4,7.2 -7.4,5.6 L-7.4,5 Q-7.4,3.3 -5.8,2.9 Q-4.6,2.6 -4.6,1.2 L-4.6,-0.8 Q-4.6,-2.2 -5.6,-2.4 Q-7.4,-2.6 -7.4,-4.2 L-7.4,-5.4 Q-7.4,-7.6 -5.2,-7.6 Z"/><path d="M0,7 L0,17.3" stroke-width="1.8" stroke-linecap="round"/></g><g transform="translate(953.3,494) rotate(45)"><path stroke="none" d="M-5.2,-7.6 L5.2,-7.6 Q7.4,-7.6 7.4,-5.4 L7.4,-4.2 Q7.4,-2.6 5.6,-2.4 Q4.6,-2.2 4.6,-0.8 L4.6,1.2 Q4.6,2.6 5.8,2.9 Q7.4,3.3 7.4,5 L7.4,5.6 Q7.4,7.2 5.6,7.2 L-5.6,7.2 Q-7.4,7.2 -7.4,5.6 L-7.4,5 Q-7.4,3.3 -5.8,2.9 Q-4.6,2.6 -4.6,1.2 L-4.6,-0.8 Q-4.6,-2.2 -5.6,-2.4 Q-7.4,-2.6 -7.4,-4.2 L-7.4,-5.4 Q-7.4,-7.6 -5.2,-7.6 Z"/><path d="M0,7 L0,17.3" stroke-width="1.8" stroke-linecap="round"/></g><g transform="translate(1023.5,477) rotate(45)"><path stroke="none" d="M-5.2,-7.6 L5.2,-7.6 Q7.4,-7.6 7.4,-5.4 L7.4,-4.2 Q7.4,-2.6 5.6,-2.4 Q4.6,-2.2 4.6,-0.8 L4.6,1.2 Q4.6,2.6 5.8,2.9 Q7.4,3.3 7.4,5 L7.4,5.6 Q7.4,7.2 5.6,7.2 L-5.6,7.2 Q-7.4,7.2 -7.4,5.6 L-7.4,5 Q-7.4,3.3 -5.8,2.9 Q-4.6,2.6 -4.6,1.2 L-4.6,-0.8 Q-4.6,-2.2 -5.6,-2.4 Q-7.4,-2.6 -7.4,-4.2 L-7.4,-5.4 Q-7.4,-7.6 -5.2,-7.6 Z"/><path d="M0,7 L0,17.3" stroke-width="1.8" stroke-linecap="round"/></g></g>
</svg>
<div class="a" style="left:668px;top:381.0px;width:167px;height:1px;background:#dcdcdc"></div>
<div class="a" style="left:668px;top:419.5px;width:167px;height:1px;background:#dcdcdc"></div>
<div class="a" style="left:668px;top:456.2px;width:167px;height:1px;background:#dcdcdc"></div>
<div class="a" style="left:668px;top:492.9px;width:167px;height:1px;background:#dcdcdc"></div>
<div class="a" style="left:668px;top:527.0px;width:167px;height:1px;background:#dcdcdc"></div>
<div class="a" style="left:668px;top:561.9px;width:167px;height:1px;background:#dcdcdc"></div>
<div class="a" style="left:668px;top:593.8px;width:167px;height:1px;background:#dcdcdc"></div>
<div class="a" style="left:668px;top:626.1px;width:167px;height:1px;background:#dcdcdc"></div>
<div class="a" style="left:668px;top:661.5px;width:167px;height:1px;background:#dcdcdc"></div>
<svg class="a" style="left:670px;top:340px" width="40" height="320" viewBox="670 340 40 320"><g fill="none" stroke-width="2.5"><circle cx="685.7" cy="362.8" r="5.8" stroke="#0b3d3f"/><circle cx="685.7" cy="401" r="5.8" stroke="#215f6c"/><circle cx="685.7" cy="438.3" r="5.8" stroke="#2b8799"/><circle cx="685.7" cy="473.2" r="5.8" stroke="#46a9c0"/><circle cx="685.7" cy="509.9" r="5.8" stroke="#43b2cf"/><circle cx="685.7" cy="544.8" r="5.8" stroke="#5cc3dc"/><circle cx="685.7" cy="577.8" r="5.8" stroke="#7acdd6"/><circle cx="685.7" cy="609" r="5.8" stroke="#8ee2ad"/><circle cx="685.7" cy="642" r="5.8" stroke="#bdeec7"/></g></svg>
<div class="t" style="top:355.05px;font-size:14px;line-height:16.8px;color:#0b3d3f;font-weight:bold;letter-spacing:0.15px;left:701.50px;">Buenos Aires</div>
<div class="t" style="top:393.25px;font-size:14px;line-height:16.8px;color:#215f6c;font-weight:bold;letter-spacing:0.15px;left:701.50px;">Córdoba</div>
<div class="t" style="top:430.55px;font-size:14px;line-height:16.8px;color:#2b8799;font-weight:bold;letter-spacing:0.15px;left:701.50px;">Santa Fé</div>
<div class="t" style="top:465.45px;font-size:14px;line-height:16.8px;color:#46a9c0;font-weight:bold;letter-spacing:0.15px;left:701.50px;">Entre Ríos</div>
<div class="t" style="top:502.15px;font-size:14px;line-height:16.8px;color:#43b2cf;font-weight:bold;letter-spacing:0.15px;left:701.50px;">San Luis</div>
<div class="t" style="top:537.05px;font-size:14px;line-height:16.8px;color:#5cc3dc;font-weight:bold;letter-spacing:0.15px;left:701.50px;">La Pampa</div>
<div class="t" style="top:570.05px;font-size:14px;line-height:16.8px;color:#7acdd6;font-weight:bold;letter-spacing:0.15px;left:701.50px;">Santiago del Estero</div>
<div class="t" style="top:601.25px;font-size:14px;line-height:16.8px;color:#8ee2ad;font-weight:bold;letter-spacing:0.15px;left:701.50px;">Tucumán</div>
<div class="t" style="top:634.25px;font-size:14px;line-height:16.8px;color:#bdeec7;font-weight:bold;letter-spacing:0.15px;left:701.50px;">Catamarca</div>
<div class="a" style="left:1265px;top:323px;width:125px;height:37px;border-radius:6px;background:#95ecad"></div>
<div class="a" style="left:1411px;top:323px;width:126px;height:37px;border-radius:6px;background:linear-gradient(90deg,#14a9c9,#79c8dc)"></div>
<div class="t" style="top:328.12px;font-size:11.5px;line-height:13.8px;color:#0f4a3c;font-weight:bold;left:1227.50px;width:200px;text-align:center;">VALORACIÓN</div>
<div class="t" style="top:342.12px;font-size:11.5px;line-height:13.8px;color:#0f4a3c;font-weight:bold;left:1227.50px;width:200px;text-align:center;">DEL SEMINARIO</div>
<div class="t" style="top:328.12px;font-size:11.5px;line-height:13.8px;color:#ffffff;font-weight:bold;left:1374.00px;width:200px;text-align:center;">PROBABILIDAD DE</div>
<div class="t" style="top:342.12px;font-size:11.5px;line-height:13.8px;color:#ffffff;font-weight:bold;left:1374.00px;width:200px;text-align:center;">RECOMENDACIÓN</div>
<div class="a" style="left:1131px;top:390px;width:110.5px;height:23.5px;border-radius:4px 4px 0 0;background:linear-gradient(90deg,#14a9c9 0%,#35b4d2 55%,#7cc8dc 100%)"></div>
<div class="a" style="left:1131px;top:413.5px;width:110.5px;height:43.8px;background:#ececec"></div>
<div class="a" style="left:1179.2px;top:456.8px;width:0;height:0;border-left:7px solid transparent;border-right:7px solid transparent;border-top:7.5px solid #ececec"></div>
<div class="t" style="top:392.60px;font-size:15px;line-height:18.0px;color:#ffffff;font-weight:bold;letter-spacing:0.3px;left:1086.25px;width:200px;text-align:center;-webkit-text-stroke:0.4px #fff;">2° Edición</div>
<div class="t" style="top:419.32px;font-size:13.5px;line-height:16.2px;color:#3d3d3d;font-weight:normal;letter-spacing:0.35px;left:1086.25px;width:200px;text-align:center;">Otoño</div>
<div class="t" style="top:435.72px;font-size:13.5px;line-height:16.2px;color:#3d3d3d;font-weight:normal;letter-spacing:0.35px;left:1086.25px;width:200px;text-align:center;">2024</div>
<div class="a" style="left:1132px;top:488.2px;width:110.5px;height:23.4px;border-radius:4px 4px 0 0;background:linear-gradient(90deg,#14a9c9 0%,#35b4d2 55%,#7cc8dc 100%)"></div>
<div class="a" style="left:1132px;top:511.6px;width:110.5px;height:43.0px;background:#ececec"></div>
<div class="a" style="left:1180.2px;top:554.1px;width:0;height:0;border-left:7px solid transparent;border-right:7px solid transparent;border-top:7.5px solid #ececec"></div>
<div class="t" style="top:490.80px;font-size:15px;line-height:18.0px;color:#ffffff;font-weight:bold;letter-spacing:0.3px;left:1087.25px;width:200px;text-align:center;-webkit-text-stroke:0.4px #fff;">3° Edición</div>
<div class="t" style="top:517.42px;font-size:13.5px;line-height:16.2px;color:#3d3d3d;font-weight:normal;letter-spacing:0.35px;left:1087.25px;width:200px;text-align:center;">Otoño</div>
<div class="t" style="top:533.82px;font-size:13.5px;line-height:16.2px;color:#3d3d3d;font-weight:normal;letter-spacing:0.35px;left:1087.25px;width:200px;text-align:center;">2025</div>
<div class="a" style="left:1134px;top:583.7px;width:110.5px;height:22.8px;border-radius:4px 4px 0 0;background:linear-gradient(90deg,#14a9c9 0%,#35b4d2 55%,#7cc8dc 100%)"></div>
<div class="a" style="left:1134px;top:606.5px;width:110.5px;height:43.8px;background:#ececec"></div>
<div class="a" style="left:1182.2px;top:649.8px;width:0;height:0;border-left:7px solid transparent;border-right:7px solid transparent;border-top:7.5px solid #ececec"></div>
<div class="t" style="top:586.30px;font-size:15px;line-height:18.0px;color:#ffffff;font-weight:bold;letter-spacing:0.3px;left:1089.25px;width:200px;text-align:center;-webkit-text-stroke:0.4px #fff;">4° Edición</div>
<div class="t" style="top:612.32px;font-size:13.5px;line-height:16.2px;color:#3d3d3d;font-weight:normal;letter-spacing:0.35px;left:1089.25px;width:200px;text-align:center;">Primavera</div>
<div class="t" style="top:628.72px;font-size:13.5px;line-height:16.2px;color:#3d3d3d;font-weight:normal;letter-spacing:0.35px;left:1089.25px;width:200px;text-align:center;">2025</div>
<svg class="a" style="left:1180px;top:460px" width="12" height="130" viewBox="1180 460 12 130"><g stroke="#4db9d4" stroke-width="1.3" stroke-dasharray="5 4"><path d="M1185.5,466 L1185.5,488"/><path d="M1185.6,563.5 L1185.6,583.5"/></g></svg>
<div class="a" style="left:1272px;top:480.5px;width:264px;height:1px;background:#d4d4d4"></div>
<div class="a" style="left:1274px;top:576px;width:264px;height:1px;background:#d4d4d4"></div>
<div class="t" style="top:403.64px;font-size:27px;line-height:32.4px;color:#8ee8a9;font-weight:bold;left:1287.00px;-webkit-text-stroke:0.5px #8ee8a9;">4.15</div>
<div class="t" style="top:403.64px;font-size:27px;line-height:32.4px;color:#3cb1d1;font-weight:bold;letter-spacing:2.7px;left:1425.50px;-webkit-text-stroke:0.5px #3cb1d1;">4.00</div>
<div class="t" style="top:499.24px;font-size:27px;line-height:32.4px;color:#8ee8a9;font-weight:bold;letter-spacing:0.6px;left:1287.00px;-webkit-text-stroke:0.5px #8ee8a9;">4.10</div>
<div class="t" style="top:499.24px;font-size:27px;line-height:32.4px;color:#3cb1d1;font-weight:bold;letter-spacing:2.2px;left:1427.80px;-webkit-text-stroke:0.5px #3cb1d1;">4.03</div>
<div class="t" style="top:594.24px;font-size:27px;line-height:32.4px;color:#8ee8a9;font-weight:bold;letter-spacing:0.9px;left:1288.30px;-webkit-text-stroke:0.5px #8ee8a9;">4.14</div>
<div class="t" style="top:594.24px;font-size:27px;line-height:32.4px;color:#3cb1d1;font-weight:bold;letter-spacing:2.6px;left:1429.00px;-webkit-text-stroke:0.5px #3cb1d1;">4.00</div>
<svg class="a" style="left:0;top:0" width="1600" height="900" viewBox="0 0 1600 900"><defs><linearGradient id="hs" x1="0" y1="0" x2="1" y2="0"><stop offset="0.38" stop-color="#8ee8a9"/><stop offset="0.38" stop-color="#dcf8e4"/></linearGradient><linearGradient id="qs" x1="0" y1="0" x2="1" y2="0"><stop offset="0" stop-color="#a6d9e8"/><stop offset="1" stop-color="#a6d9e8"/></linearGradient></defs><polygon points="1292.00,441.90 1293.73,445.41 1297.61,445.98 1294.81,448.71 1295.47,452.57 1292.00,450.75 1288.53,452.57 1289.19,448.71 1286.39,445.98 1290.27,445.41" fill="#8ee8a9" stroke="#8ee8a9" stroke-width="0.7" stroke-linejoin="round" /><polygon points="1435.50,441.90 1437.23,445.41 1441.11,445.98 1438.31,448.71 1438.97,452.57 1435.50,450.75 1432.03,452.57 1432.69,448.71 1429.89,445.98 1433.77,445.41" fill="#3cb1d1" stroke="#3cb1d1" stroke-width="0.7" stroke-linejoin="round" /><polygon points="1311.70,441.90 1313.43,445.41 1317.31,445.98 1314.51,448.71 1315.17,452.57 1311.70,450.75 1308.23,452.57 1308.89,448.71 1306.09,445.98 1309.97,445.41" fill="#8ee8a9" stroke="#8ee8a9" stroke-width="0.7" stroke-linejoin="round" /><polygon points="1455.20,441.90 1456.93,445.41 1460.81,445.98 1458.01,448.71 1458.67,452.57 1455.20,450.75 1451.73,452.57 1452.39,448.71 1449.59,445.98 1453.47,445.41" fill="#3cb1d1" stroke="#3cb1d1" stroke-width="0.7" stroke-linejoin="round" /><polygon points="1331.40,441.90 1333.13,445.41 1337.01,445.98 1334.21,448.71 1334.87,452.57 1331.40,450.75 1327.93,452.57 1328.59,448.71 1325.79,445.98 1329.67,445.41" fill="#8ee8a9" stroke="#8ee8a9" stroke-width="0.7" stroke-linejoin="round" /><polygon points="1474.90,441.90 1476.63,445.41 1480.51,445.98 1477.71,448.71 1478.37,452.57 1474.90,450.75 1471.43,452.57 1472.09,448.71 1469.29,445.98 1473.17,445.41" fill="#3cb1d1" stroke="#3cb1d1" stroke-width="0.7" stroke-linejoin="round" /><polygon points="1351.10,441.90 1352.83,445.41 1356.71,445.98 1353.91,448.71 1354.57,452.57 1351.10,450.75 1347.63,452.57 1348.29,448.71 1345.49,445.98 1349.37,445.41" fill="#8ee8a9" stroke="#8ee8a9" stroke-width="0.7" stroke-linejoin="round" /><polygon points="1494.60,441.90 1496.33,445.41 1500.21,445.98 1497.41,448.71 1498.07,452.57 1494.60,450.75 1491.13,452.57 1491.79,448.71 1488.99,445.98 1492.87,445.41" fill="#3cb1d1" stroke="#3cb1d1" stroke-width="0.7" stroke-linejoin="round" /><polygon points="1370.80,441.90 1372.53,445.41 1376.41,445.98 1373.61,448.71 1374.27,452.57 1370.80,450.75 1367.33,452.57 1367.99,448.71 1365.19,445.98 1369.07,445.41" fill="url(#hs)" stroke="url(#hs)" stroke-width="0.7" stroke-linejoin="round" /><polygon points="1514.30,441.90 1516.03,445.41 1519.91,445.98 1517.11,448.71 1517.77,452.57 1514.30,450.75 1510.83,452.57 1511.49,448.71 1508.69,445.98 1512.57,445.41" fill="#a8dbea" stroke="#a8dbea" stroke-width="0.7" stroke-linejoin="round" /><polygon points="1294.00,538.60 1295.73,542.11 1299.61,542.68 1296.81,545.41 1297.47,549.27 1294.00,547.45 1290.53,549.27 1291.19,545.41 1288.39,542.68 1292.27,542.11" fill="#8ee8a9" stroke="#8ee8a9" stroke-width="0.7" stroke-linejoin="round" /><polygon points="1437.00,538.60 1438.73,542.11 1442.61,542.68 1439.81,545.41 1440.47,549.27 1437.00,547.45 1433.53,549.27 1434.19,545.41 1431.39,542.68 1435.27,542.11" fill="#3cb1d1" stroke="#3cb1d1" stroke-width="0.7" stroke-linejoin="round" /><polygon points="1313.70,538.60 1315.43,542.11 1319.31,542.68 1316.51,545.41 1317.17,549.27 1313.70,547.45 1310.23,549.27 1310.89,545.41 1308.09,542.68 1311.97,542.11" fill="#8ee8a9" stroke="#8ee8a9" stroke-width="0.7" stroke-linejoin="round" /><polygon points="1456.70,538.60 1458.43,542.11 1462.31,542.68 1459.51,545.41 1460.17,549.27 1456.70,547.45 1453.23,549.27 1453.89,545.41 1451.09,542.68 1454.97,542.11" fill="#3cb1d1" stroke="#3cb1d1" stroke-width="0.7" stroke-linejoin="round" /><polygon points="1333.40,538.60 1335.13,542.11 1339.01,542.68 1336.21,545.41 1336.87,549.27 1333.40,547.45 1329.93,549.27 1330.59,545.41 1327.79,542.68 1331.67,542.11" fill="#8ee8a9" stroke="#8ee8a9" stroke-width="0.7" stroke-linejoin="round" /><polygon points="1476.40,538.60 1478.13,542.11 1482.01,542.68 1479.21,545.41 1479.87,549.27 1476.40,547.45 1472.93,549.27 1473.59,545.41 1470.79,542.68 1474.67,542.11" fill="#3cb1d1" stroke="#3cb1d1" stroke-width="0.7" stroke-linejoin="round" /><polygon points="1353.10,538.60 1354.83,542.11 1358.71,542.68 1355.91,545.41 1356.57,549.27 1353.10,547.45 1349.63,549.27 1350.29,545.41 1347.49,542.68 1351.37,542.11" fill="#8ee8a9" stroke="#8ee8a9" stroke-width="0.7" stroke-linejoin="round" /><polygon points="1496.10,538.60 1497.83,542.11 1501.71,542.68 1498.91,545.41 1499.57,549.27 1496.10,547.45 1492.63,549.27 1493.29,545.41 1490.49,542.68 1494.37,542.11" fill="#3cb1d1" stroke="#3cb1d1" stroke-width="0.7" stroke-linejoin="round" /><polygon points="1372.80,538.60 1374.53,542.11 1378.41,542.68 1375.61,545.41 1376.27,549.27 1372.80,547.45 1369.33,549.27 1369.99,545.41 1367.19,542.68 1371.07,542.11" fill="url(#hs)" stroke="url(#hs)" stroke-width="0.7" stroke-linejoin="round" /><polygon points="1515.80,538.60 1517.53,542.11 1521.41,542.68 1518.61,545.41 1519.27,549.27 1515.80,547.45 1512.33,549.27 1512.99,545.41 1510.19,542.68 1514.07,542.11" fill="#a8dbea" stroke="#a8dbea" stroke-width="0.7" stroke-linejoin="round" /><polygon points="1292.60,632.30 1294.33,635.81 1298.21,636.38 1295.41,639.11 1296.07,642.97 1292.60,641.15 1289.13,642.97 1289.79,639.11 1286.99,636.38 1290.87,635.81" fill="#8ee8a9" stroke="#8ee8a9" stroke-width="0.7" stroke-linejoin="round" /><polygon points="1436.00,632.30 1437.73,635.81 1441.61,636.38 1438.81,639.11 1439.47,642.97 1436.00,641.15 1432.53,642.97 1433.19,639.11 1430.39,636.38 1434.27,635.81" fill="#3cb1d1" stroke="#3cb1d1" stroke-width="0.7" stroke-linejoin="round" /><polygon points="1312.30,632.30 1314.03,635.81 1317.91,636.38 1315.11,639.11 1315.77,642.97 1312.30,641.15 1308.83,642.97 1309.49,639.11 1306.69,636.38 1310.57,635.81" fill="#8ee8a9" stroke="#8ee8a9" stroke-width="0.7" stroke-linejoin="round" /><polygon points="1455.70,632.30 1457.43,635.81 1461.31,636.38 1458.51,639.11 1459.17,642.97 1455.70,641.15 1452.23,642.97 1452.89,639.11 1450.09,636.38 1453.97,635.81" fill="#3cb1d1" stroke="#3cb1d1" stroke-width="0.7" stroke-linejoin="round" /><polygon points="1332.00,632.30 1333.73,635.81 1337.61,636.38 1334.81,639.11 1335.47,642.97 1332.00,641.15 1328.53,642.97 1329.19,639.11 1326.39,636.38 1330.27,635.81" fill="#8ee8a9" stroke="#8ee8a9" stroke-width="0.7" stroke-linejoin="round" /><polygon points="1475.40,632.30 1477.13,635.81 1481.01,636.38 1478.21,639.11 1478.87,642.97 1475.40,641.15 1471.93,642.97 1472.59,639.11 1469.79,636.38 1473.67,635.81" fill="#3cb1d1" stroke="#3cb1d1" stroke-width="0.7" stroke-linejoin="round" /><polygon points="1351.70,632.30 1353.43,635.81 1357.31,636.38 1354.51,639.11 1355.17,642.97 1351.70,641.15 1348.23,642.97 1348.89,639.11 1346.09,636.38 1349.97,635.81" fill="#8ee8a9" stroke="#8ee8a9" stroke-width="0.7" stroke-linejoin="round" /><polygon points="1495.10,632.30 1496.83,635.81 1500.71,636.38 1497.91,639.11 1498.57,642.97 1495.10,641.15 1491.63,642.97 1492.29,639.11 1489.49,636.38 1493.37,635.81" fill="#3cb1d1" stroke="#3cb1d1" stroke-width="0.7" stroke-linejoin="round" /><polygon points="1371.40,632.30 1373.13,635.81 1377.01,636.38 1374.21,639.11 1374.87,642.97 1371.40,641.15 1367.93,642.97 1368.59,639.11 1365.79,636.38 1369.67,635.81" fill="url(#hs)" stroke="url(#hs)" stroke-width="0.7" stroke-linejoin="round" /><polygon points="1514.80,632.30 1516.53,635.81 1520.41,636.38 1517.61,639.11 1518.27,642.97 1514.80,641.15 1511.33,642.97 1511.99,639.11 1509.19,636.38 1513.07,635.81" fill="#a8dbea" stroke="#a8dbea" stroke-width="0.7" stroke-linejoin="round" /><defs><linearGradient id="lg1" x1="0" y1="0" x2="1" y2="1"><stop offset="0" stop-color="#13a6c6"/><stop offset="1" stop-color="#6fc3d9"/></linearGradient></defs><rect x="1131" y="694" width="11.5" height="11.5" rx="2.5" fill="url(#lg1)"/><rect x="1131" y="722" width="11.5" height="11.5" rx="2.5" fill="#8ee8a9"/></svg>
<div class="t" style="top:691.28px;font-size:12.8px;line-height:15.36px;color:#474747;font-weight:normal;left:1152.00px;">Rango 1-5, malo a excelente</div>
<div class="t" style="top:718.48px;font-size:12.8px;line-height:15.36px;color:#474747;font-weight:normal;left:1152.00px;">Rango 1-5, nada probable a muy probable</div>
</body></html>
